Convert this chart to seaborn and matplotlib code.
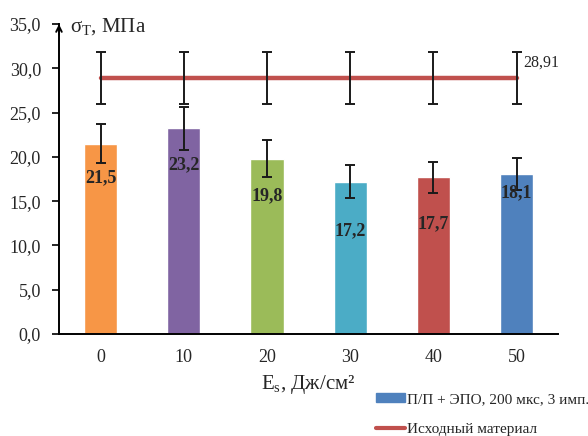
import numpy as np
import pandas as pd
import seaborn as sns
import matplotlib.pyplot as plt
from matplotlib.patches import Patch
from matplotlib.lines import Line2D

# data
energies = ["0", "10", "20", "30", "40", "50"]
strength = [21.5, 23.2, 19.8, 17.2, 17.7, 18.1]
strength_err = [2.2, 2.4, 2.05, 1.85, 1.75, 1.8]
base_value = 28.91
base_err = 2.9
bar_colors = ["#F79646", "#8064A2", "#9BBB59", "#4BACC6", "#C0504D", "#4F81BD"]

sns.set_style("white")
plt.rcParams['font.family'] = ['Liberation Serif', 'DejaVu Serif']

df = pd.DataFrame({"E": energies, "sigma": strength})

fig = plt.figure(figsize=(5.88, 4.36), dpi=100)
ax = fig.add_axes([0.1003, 0.234, 0.849, 0.711])

sns.barplot(data=df, x="E", y="sigma", hue="E", palette=bar_colors,
            width=0.4, legend=False, ax=ax, saturation=1)
xs = np.arange(len(energies))
ax.errorbar(xs, strength, yerr=strength_err, fmt="none", ecolor="#1a1a1a",
            elinewidth=1.4, capsize=3.5, capthick=1.4)

# reference material line
ax.plot(xs, [base_value] * len(xs), color="#C0504D", lw=3.2, zorder=3)
ax.errorbar(xs, [base_value] * len(xs), yerr=base_err, fmt="none",
            ecolor="#1a1a1a", elinewidth=1.4, capsize=3.5, capthick=1.4, zorder=4)
ax.text(xs[-1] + 0.08, base_value + 1.7, "28,91", fontsize=11.5, va="center")

# value labels sit inside the bars, a bit below the top
label_drop = [3.9, 4.1, 4.2, 5.5, 5.2, 2.2]
for x, v, d in zip(xs, strength, label_drop):
    ax.text(x, v - d, f"{v:.1f}".replace(".", ","), ha="center",
            va="center", fontsize=13, fontweight="bold")

ax.set_ylim(0, 35)
ax.set_xlim(-0.5, 5.5)
yt = np.arange(0, 36, 5)
ax.set_yticks(yt)
ax.set_yticklabels([f"{t:.1f}".replace(".", ",") for t in yt], fontsize=13)
ax.set_xticks(xs)
ax.set_xticklabels(energies, fontsize=13)
ax.set_xticks(np.arange(-0.5, 5.6, 1), minor=True)
ax.tick_params(axis="x", which="major", length=0, pad=11)
ax.tick_params(axis="x", which="minor", direction="in", length=5, width=1.2, color="black")
ax.tick_params(axis="y", direction="out", length=5, width=1.2, color="black",
               left=True, pad=8)
for s in ["top", "right"]:
    ax.spines[s].set_visible(False)
for s in ["left", "bottom"]:
    ax.spines[s].set_color("black")
    ax.spines[s].set_linewidth(1.4)
ax.set_xlabel("E$_\\mathregular{s}$, Дж/см²", fontsize=15, labelpad=5)
ax.set_ylabel("")
ax.annotate("", xy=(-0.5, 35.3), xytext=(-0.5, 33.5), annotation_clip=False,
            arrowprops=dict(arrowstyle="->", color="black", lw=1.4))
ax.text(-0.37, 34.6, "σ$_\\mathregular{Т}$, МПа", fontsize=15, va="center")

handles = [Patch(color="#4F81BD"), Line2D([], [], color="#C0504D", lw=3)]
fig.legend(handles, ["П/П + ЭПО, 200 мкс, 3 имп.", "Исходный материал"],
           loc="upper left", bbox_to_anchor=(0.639, 0.098), frameon=False,
           fontsize=11, handlelength=1.9, handleheight=0.5, handletextpad=0.15,
           labelspacing=1.1, borderpad=0, borderaxespad=0)

fig.savefig("out.png", dpi=100)
